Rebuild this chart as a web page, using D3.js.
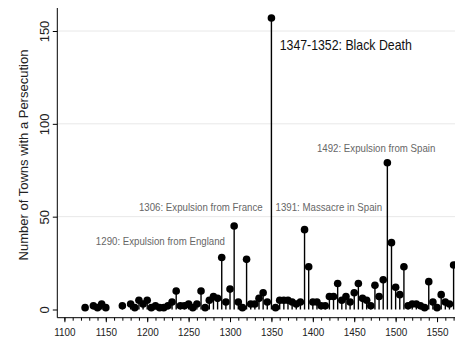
<!DOCTYPE html>
<html>
<head>
<meta charset="utf-8">
<script src="https://cdn.jsdelivr.net/npm/d3@7"></script>
<style>
  body { margin: 0; background: #fff; }
  svg { display: block; font-family: "Liberation Sans", Arial, sans-serif; }
  .grid line { stroke: #e8e8e8; stroke-width: 1; }
  .axis path, .axis line { stroke: #000; }
</style>
</head>
<body>
<div id="chart"></div>
<script>
// 5-year bins and number of towns with a persecution
const years = [1125, 1135, 1140, 1145, 1150, 1170, 1180, 1185, 1190, 1195,
  1200, 1205, 1210, 1215, 1220, 1225, 1230, 1235, 1240, 1245,
  1250, 1255, 1260, 1265, 1270, 1275, 1280, 1285, 1290, 1295,
  1300, 1305, 1310, 1315, 1320, 1325, 1330, 1335, 1340, 1345,
  1350, 1355, 1360, 1365, 1370, 1375, 1380, 1385, 1390, 1395,
  1400, 1405, 1410, 1415, 1420, 1425, 1430, 1435, 1440, 1445,
  1450, 1455, 1460, 1465, 1470, 1475, 1480, 1485, 1490, 1495,
  1500, 1505, 1510, 1515, 1520, 1525, 1530, 1535, 1540, 1545,
  1550, 1555, 1560, 1565, 1570];
const towns = [1, 2, 1, 3, 1, 2, 3, 1, 5, 3,
  5, 1, 2, 1, 1, 2, 4, 10, 2, 2,
  3, 1, 3, 10, 1, 5, 7, 6, 28, 4,
  11, 45, 4, 1, 27, 3, 3, 6, 9, 4,
  157, 1, 5, 5, 5, 4, 3, 4, 43, 23,
  4, 4, 2, 2, 7, 7, 14, 5, 7, 4,
  9, 14, 6, 5, 2, 13, 7, 16, 79, 36,
  12, 8, 23, 2, 3, 3, 2, 1, 15, 4,
  1, 8, 4, 3, 24];

const xMajor = [1100, 1150, 1200, 1250, 1300, 1350, 1400, 1450, 1500, 1550];
const xMinor = d3.range(1100, 1571, 10);
const yTicks = [0, 50, 100, 150];

const notes = [
  {text: "1347-1352: Black Death", year: 1360, value: 140, big: true},
  {text: "1492: Expulsion from Spain", year: 1405, value: 85},
  {text: "1391: Massacre in Spain", year: 1355, value: 53.3},
  {text: "1306: Expulsion from France", year: 1190, value: 53.3},
  {text: "1290: Expulsion from England", year: 1138, value: 34.7}
];

const W = 455, H = 361;
const svg = d3.select("#chart").append("svg")
  .attr("width", W).attr("height", H);

const x = d3.scaleLinear().domain([1100, 1570]).range([64.4, 453.6]);
const y = d3.scaleLinear().domain([0, 150]).range([309.5, 31]);
const axisX = 57.3, axisY = 317.7;

// gridlines
svg.append("g").attr("class", "grid")
  .selectAll("line").data(yTicks.slice(1)).join("line")
  .attr("x1", axisX).attr("x2", W)
  .attr("y1", d => y(d)).attr("y2", d => y(d));

// stems and dots
const data = years.map((yr, i) => ({year: yr, n: towns[i]}));
svg.append("g").selectAll("line").data(data).join("line")
  .attr("x1", d => x(d.year)).attr("x2", d => x(d.year))
  .attr("y1", y(0)).attr("y2", d => y(d.n))
  .attr("stroke", "#000").attr("stroke-width", 1.4);
svg.append("g").selectAll("circle").data(data).join("circle")
  .attr("cx", d => x(d.year)).attr("cy", d => y(d.n))
  .attr("r", 3.8).attr("fill", "#000");

// x axis: minor ticks every 10 years, labelled ticks every 50
const gx = svg.append("g").attr("class", "axis")
  .attr("transform", `translate(0,${axisY})`);
gx.call(d3.axisBottom(x).tickValues(xMinor).tickSize(3).tickFormat(""));
gx.select(".domain").remove();
const gx2 = svg.append("g").attr("class", "axis")
  .attr("transform", `translate(0,${axisY})`);
gx2.call(d3.axisBottom(x).tickValues(xMajor).tickSize(4.5).tickFormat(d3.format("d")));
gx2.select(".domain").remove();
gx2.selectAll("text")
  .attr("y", 0).attr("dy", 0)
  .attr("transform", "translate(0,18) scale(0.9,1)")
  .style("font-size", "11px").attr("fill", "#222");
svg.append("line").attr("x1", axisX).attr("x2", W)
  .attr("y1", axisY).attr("y2", axisY).attr("stroke", "#000");

// y axis
const gy = svg.append("g").attr("class", "axis")
  .attr("transform", `translate(${axisX},0)`);
gy.call(d3.axisLeft(y).tickValues(yTicks).tickSize(4.5));
gy.select(".domain").remove();
gy.selectAll(".tick text")
  .attr("x", 0).attr("dy", 0)
  .attr("transform", "translate(-8,0) rotate(-90)")
  .attr("text-anchor", "middle")
  .style("font-size", "13px").attr("fill", "#222");
svg.append("line").attr("x1", axisX).attr("x2", axisX)
  .attr("y1", 8).attr("y2", axisY).attr("stroke", "#000");

svg.append("text")
  .attr("transform", `translate(28,155) rotate(-90)`)
  .attr("text-anchor", "middle")
  .style("font-size", "13px").attr("fill", "#222")
  .text("Number of Towns with a Persecution");

// annotations
svg.append("g").selectAll("text").data(notes).join("text")
  .attr("transform", d => `translate(${x(d.year)},${y(d.value)}) scale(0.88,1)`)
  .style("font-size", d => d.big ? "14px" : "11px")
  .attr("fill", d => d.big ? "#111" : "#666")
  .text(d => d.text);
</script>
</body>
</html>
